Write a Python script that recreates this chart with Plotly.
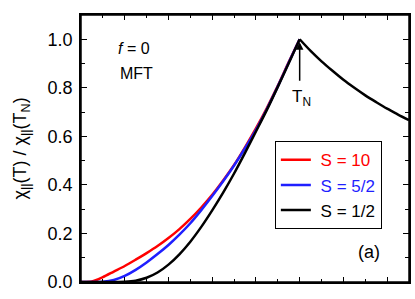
import plotly.graph_objects as go

# reduced temperature T/T_N (below T_N)
t_low = [0.0, 0.05, 0.10, 0.15, 0.20, 0.25, 0.30, 0.35, 0.40, 0.45, 0.50,
         0.55, 0.60, 0.65, 0.70, 0.75, 0.80, 0.85, 0.90, 0.95, 1.00]
chi_S10 = [0.0, 0.002, 0.020, 0.043, 0.066, 0.092, 0.119, 0.148, 0.181, 0.218, 0.260,
           0.307, 0.359, 0.418, 0.482, 0.555, 0.633, 0.717, 0.808, 0.906, 1.0]
chi_S52 = [0.0, 0.0, 0.0007, 0.008, 0.025, 0.050, 0.0805, 0.115, 0.1525, 0.195, 0.242,
           0.296, 0.354, 0.415, 0.480, 0.551, 0.627, 0.713, 0.806, 0.904, 1.0]
chi_S12 = [0.0, 0.0, 0.0, 0.0001, 0.0009, 0.0054, 0.0174, 0.039, 0.0715, 0.114, 0.166,
           0.227, 0.295, 0.368, 0.447, 0.532, 0.620, 0.709, 0.804, 0.901, 1.0]
# above T_N (all S coincide)
t_high = [1.00, 1.05, 1.10, 1.15, 1.20, 1.25, 1.30, 1.35, 1.40, 1.45, 1.50]
chi_para = [1.0, 0.952, 0.909, 0.870, 0.833, 0.800, 0.769, 0.741, 0.714, 0.690, 0.667]

series_names = ["S = 10", "S = 5/2", "S = 1/2"]
series_colors = ["#ff0000", "#1f1fff", "#000000"]
series_vals = [chi_S10, chi_S52, chi_S12]

FONT = "Liberation Sans, Arial, sans-serif"

fig = go.Figure()
for name, col, vals in zip(series_names, series_colors, series_vals):
    fig.add_trace(go.Scatter(
        x=t_low, y=vals, mode="lines",
        line=dict(color=col, width=2.5, shape="spline", smoothing=0.8),
        name=f"<span style='color:{col}'>\u00a0{name}</span>",
        legendgroup=name,
    ))
fig.add_trace(go.Scatter(
    x=t_high, y=chi_para, mode="lines",
    line=dict(color="#000000", width=2.5, shape="spline", smoothing=0.8),
    showlegend=False,
))

axis_common = dict(
    showline=True, linecolor="#000000", linewidth=1.5, mirror="allticks",
    ticks="inside", tickcolor="#000000", tickwidth=1, showgrid=False, zeroline=False,
)

fig.update_xaxes(
    range=[0, 1.5], dtick=0.2, tick0=0, ticklen=5, showticklabels=False,
    minor=dict(dtick=0.1, ticks="inside", ticklen=3, tickcolor="#000000", showgrid=False),
    **axis_common,
)
fig.update_yaxes(
    range=[0, 1.1], dtick=0.2, tick0=0, ticklen=6, tickformat=".1f",
    tickfont=dict(family=FONT, size=18, color="#000000"), ticklabelstandoff=3,
    minor=dict(dtick=0.1, ticks="inside", ticklen=4, tickcolor="#000000", showgrid=False),
    **axis_common,
)

# plot frame
fig.add_shape(type="rect", xref="paper", yref="paper", x0=0, y0=0, x1=1, y1=1,
              line=dict(color="#000000", width=1.5), layer="above")

fig.add_annotation(
    xref="paper", yref="paper", x=-0.18, y=0.5, xanchor="center", yanchor="middle",
    textangle=-90,
    text="χ<sub>||</sub>(T) / χ<sub>||</sub>(T<sub>N</sub>)", showarrow=False,
    font=dict(family=FONT, size=18, color="#000000"),
)
fig.add_annotation(
    xref="paper", yref="paper", x=0.108, y=0.875, xanchor="left", yanchor="middle",
    text="<i>f</i> = 0", showarrow=False, font=dict(family=FONT, size=16, color="#000000"),
)
fig.add_annotation(
    xref="paper", yref="paper", x=0.112, y=0.78, xanchor="left", yanchor="middle",
    text="MFT", showarrow=False, font=dict(family=FONT, size=16, color="#000000"),
)
fig.add_annotation(
    x=1.0, y=1.0, xref="x", yref="y", text="", showarrow=True,
    ax=0, ay=43, arrowhead=2, arrowsize=1, arrowwidth=1.5, arrowcolor="#000000", standoff=3,
)
fig.add_annotation(
    x=1.01, y=0.76, xref="x", yref="y", xanchor="center", yanchor="middle",
    text="T<sub>N</sub>", showarrow=False, font=dict(family=FONT, size=17, color="#000000"),
)
fig.add_annotation(
    xref="paper", yref="paper", x=0.877, y=0.112, xanchor="center", yanchor="middle",
    text="(a)", showarrow=False, font=dict(family=FONT, size=18, color="#000000"),
)

fig.update_layout(
    width=415, height=299,
    margin=dict(l=81, r=4, t=15, b=17),
    paper_bgcolor="white", plot_bgcolor="white",
    font=dict(family=FONT, color="#000000"),
    legend=dict(
        x=0.591, y=0.527, xanchor="left", yanchor="top",
        bordercolor="#000000", borderwidth=1, bgcolor="white",
        font=dict(family=FONT, size=17), tracegroupgap=0,
        itemwidth=30,
    ),
)

fig.write_html(
    "out.html",
    config={"displayModeBar": False},
    post_script="document.body.style.margin='0';document.body.style.overflow='hidden';",
)
